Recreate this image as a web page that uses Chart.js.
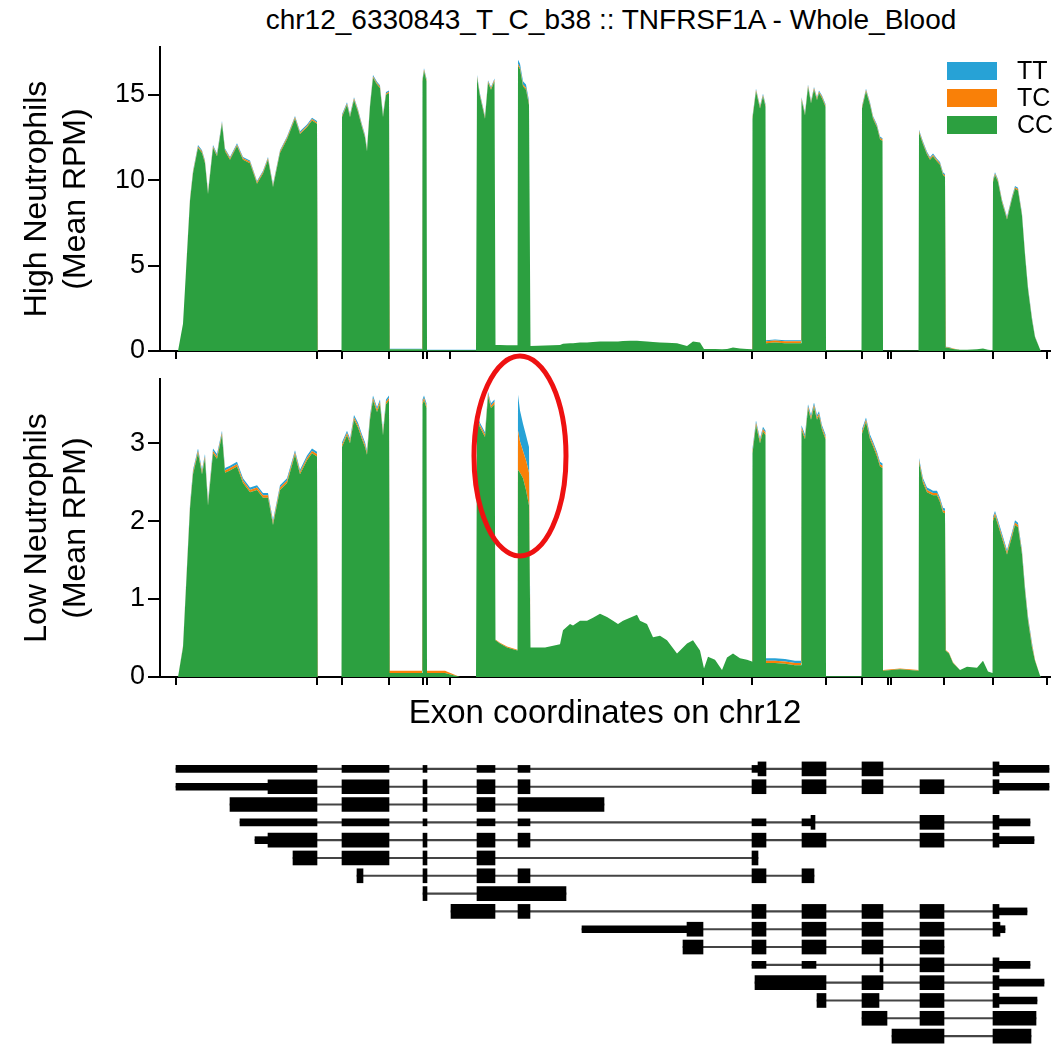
<!DOCTYPE html>
<html>
<head>
<meta charset="utf-8">
<script src="https://cdn.jsdelivr.net/npm/chart.js@4.4.1/dist/chart.umd.min.js"></script>
<style>
    body { margin: 0; background: #fff; width: 1054px; height: 1046px; position: relative; overflow: hidden;
           font-family: 'Liberation Sans', Arial, sans-serif; color: #000; }
    canvas { position: absolute; left: 0; }
    #title { position: absolute; top: 4px; left: 611px; transform: translateX(-50%); font-size: 28px; white-space: nowrap; }
    #legend { position: absolute; left: 947px; top: 57px; font-size: 25px; }
    #legend .item { display: flex; align-items: center; height: 27px; }
    #legend .swatch { width: 50px; height: 18px; margin-right: 20px; }
    #marker { position: absolute; left: 0; top: 0; pointer-events: none; }
</style>
</head>
<body>
<div id="title">chr12_6330843_T_C_b38 :: TNFRSF1A - Whole_Blood</div>
<canvas id="high-chart" width="1054" height="372" style="top:0"></canvas>
<canvas id="low-chart" width="1054" height="390" style="top:360px"></canvas>
<canvas id="gene-chart" width="1054" height="301" style="top:745px"></canvas>
<div id="legend"></div>
<svg id="marker" width="1054" height="1046">
    <ellipse cx="520" cy="456" rx="46" ry="100" fill="none" stroke="#ee1111" stroke-width="5"></ellipse>
</svg>
<script>
// Positions along the collapsed exon axis (shared by both panels)
const positions = [
    18, 23, 30, 33, 38, 42, 45, 48, 53, 57, 62, 65, 70, 77, 83, 90, 97, 103, 108, 113, 120, 127, 135, 140, 147, 152, 157, 157.5,
    181.5, 182, 187, 190, 194, 198, 202, 205, 207, 210, 213, 217, 220, 223, 226, 229,
    229.5, 245, 262, 262.5, 264, 266.5, 267, 285, 300, 316,
    317, 320, 325, 328, 331, 334.5, 335.5, 340, 347, 357.5,
    358, 360, 363, 366, 369, 370.5,
    385, 400, 403, 410, 413, 420, 427, 433, 440, 447, 453, 458, 463, 470, 477, 480, 487, 493, 500, 507, 517, 527, 533, 540, 544, 548, 555, 562, 567, 573, 580, 587, 592,
    592.5, 596, 600, 603, 605.5, 606, 615, 625, 635, 641,
    641.5, 645, 648, 651, 654, 657, 659, 662, 665.5, 666, 685, 701.5,
    702, 706, 710, 713, 717, 720, 722.5, 723, 740, 758.5,
    759, 763, 767, 770, 773, 777, 780, 783, 785, 785.5,
    789, 793, 800, 807, 817, 823, 828, 832.5,
    833, 835, 838, 842, 847, 852, 855, 858, 862, 865, 868, 872, 875, 880, 881
];

// High Neutrophils (Mean RPM) per genotype
const highCC = [
    0, 1.6, 8.8, 10.4, 11.9, 11.6, 11.0, 9.2, 11.9, 11.4, 13.3, 11.7, 11.2, 12.0, 11.2, 11.0, 9.8, 10.4, 11.2, 9.6, 11.6, 12.4, 13.6, 12.7, 13.1, 13.5, 13.3, 0,
    0, 13.7, 14.4, 13.7, 14.7, 14.0, 13.1, 12.5, 11.7, 14.3, 16.0, 15.6, 15.4, 13.7, 15.0, 15.1,
    0.1, 0.1, 0.1, 15.8, 16.4, 15.8, 0.05, 0.05, 0.05, 0.05,
    16.0, 14.9, 13.6, 15.7, 15.3, 15.8, 0.35, 0.35, 0.33, 0.33,
    16.7, 16.5, 15.5, 15.3, 14.4, 0.3,
    0.32, 0.35, 0.42, 0.45, 0.45, 0.5, 0.5, 0.52, 0.55, 0.55, 0.55, 0.55, 0.58, 0.6, 0.6, 0.58, 0.55, 0.52, 0.5, 0.48, 0.45, 0.3, 0.55, 0.5, 0.12, 0.12, 0.12, 0.1, 0.12, 0.2, 0.15, 0.12, 0.1,
    13.6, 15.2, 14.2, 14.9, 14.3, 0.45, 0.5, 0.45, 0.45, 0.45,
    14.7, 13.8, 15.45, 14.5, 15.3, 14.7, 15.1, 14.8, 14.3, 0.05, 0.05, 0.05,
    14.2, 15.2, 14.4, 13.6, 13.1, 12.4, 12.3, 0.02, 0.03, 0.03,
    12.8, 12.1, 11.5, 11.2, 11.4, 11.1, 10.9, 10.3, 10.2, 0.2,
    0.18, 0.12, 0.08, 0.08, 0.1, 0.15, 0.08, 0.05,
    9.9, 10.3, 9.9, 8.7, 7.7, 8.9, 9.5, 9.4, 7.9, 5.6, 3.6, 1.8, 0.8, 0.1, 0
];
const highTC = [
    0, 0, 0.08, 0.08, 0.08, 0.08, 0.08, 0.08, 0.08, 0.08, 0.08, 0.08, 0.08, 0.08, 0.08, 0.08, 0.08, 0.08, 0.08, 0.08, 0.08, 0.08, 0.08, 0.08, 0.08, 0.08, 0.08, 0,
    0, 0.08, 0.08, 0.08, 0.08, 0.08, 0.08, 0.08, 0.08, 0.08, 0.08, 0.08, 0.08, 0.08, 0.08, 0.08,
    0, 0, 0, 0.08, 0.08, 0.08, 0, 0, 0, 0,
    0.08, 0.08, 0.08, 0.08, 0.08, 0.08, 0, 0, 0, 0,
    0.1, 0.1, 0.1, 0.1, 0.1, 0,
    0, 0, 0, 0, 0, 0, 0, 0, 0, 0, 0, 0, 0, 0, 0, 0, 0, 0, 0, 0, 0, 0, 0, 0, 0, 0, 0, 0, 0, 0, 0, 0, 0,
    0.08, 0.08, 0.08, 0.08, 0.08, 0.12, 0.12, 0.12, 0.12, 0.12,
    0.08, 0.08, 0.08, 0.08, 0.08, 0.08, 0.08, 0.08, 0.08, 0, 0, 0,
    0.08, 0.08, 0.08, 0.08, 0.08, 0.08, 0.08, 0, 0, 0,
    0.08, 0.08, 0.08, 0.08, 0.08, 0.08, 0.08, 0.08, 0.08, 0.03,
    0.03, 0.02, 0, 0, 0, 0, 0, 0,
    0.08, 0.08, 0.08, 0.08, 0.08, 0.08, 0.08, 0.08, 0.08, 0.08, 0.08, 0.08, 0.04, 0, 0
];
const highTT = [
    0, 0, 0.08, 0.08, 0.08, 0.08, 0.08, 0.08, 0.08, 0.08, 0.08, 0.08, 0.08, 0.08, 0.08, 0.08, 0.08, 0.08, 0.08, 0.08, 0.08, 0.08, 0.08, 0.08, 0.08, 0.08, 0.08, 0,
    0, 0.08, 0.08, 0.08, 0.08, 0.08, 0.08, 0.08, 0.08, 0.08, 0.08, 0.08, 0.08, 0.08, 0.08, 0.08,
    0.03, 0.03, 0.03, 0.08, 0.08, 0.08, 0.02, 0.02, 0.02, 0.02,
    0.08, 0.08, 0.08, 0.08, 0.08, 0.08, 0, 0, 0, 0,
    0.25, 0.22, 0.2, 0.2, 0.15, 0,
    0, 0, 0, 0, 0, 0, 0, 0, 0, 0, 0, 0, 0, 0, 0, 0, 0, 0, 0, 0, 0, 0, 0, 0, 0, 0, 0, 0, 0, 0, 0, 0, 0,
    0.08, 0.08, 0.08, 0.08, 0.08, 0.06, 0.06, 0.06, 0.06, 0.06,
    0.08, 0.08, 0.08, 0.08, 0.08, 0.08, 0.08, 0.08, 0.08, 0, 0, 0,
    0.08, 0.08, 0.08, 0.08, 0.08, 0.08, 0.08, 0, 0, 0,
    0.08, 0.08, 0.08, 0.08, 0.08, 0.08, 0.08, 0.08, 0.08, 0.02,
    0.02, 0.01, 0, 0, 0, 0, 0, 0,
    0.08, 0.08, 0.08, 0.08, 0.08, 0.08, 0.08, 0.08, 0.08, 0.08, 0.08, 0.08, 0.03, 0, 0
];

// Low Neutrophils (Mean RPM) per genotype
const lowCC = [
    0, 0.38, 2.16, 2.6, 2.87, 2.6, 2.8, 2.2, 2.87, 2.8, 3.1, 2.62, 2.65, 2.7, 2.49, 2.37, 2.4, 2.3, 2.3, 1.95, 2.4, 2.49, 2.85, 2.6, 2.78, 2.87, 2.83, 0,
    0, 2.95, 3.1, 3.0, 3.3, 3.2, 3.05, 2.95, 2.85, 3.3, 3.55, 3.4, 3.5, 3.1, 3.5, 3.55,
    0.05, 0.05, 0.05, 3.5, 3.55, 3.45, 0.05, 0.05, 0, 0,
    3.3, 3.2, 3.08, 3.6, 3.45, 3.5, 0.47, 0.43, 0.38, 0.34,
    2.66, 2.62, 2.55, 2.4, 2.2, 0.38,
    0.38, 0.42, 0.6, 0.68, 0.66, 0.72, 0.72, 0.76, 0.81, 0.77, 0.72, 0.68, 0.72, 0.76, 0.8, 0.72, 0.68, 0.51, 0.53, 0.47, 0.3, 0.43, 0.47, 0.34, 0.11, 0.26, 0.22, 0.09, 0.25, 0.3, 0.24, 0.22, 0.2,
    2.87, 3.23, 3.0, 3.15, 3.1, 0.18, 0.18, 0.17, 0.15, 0.15,
    3.17, 3.05, 3.44, 3.3, 3.46, 3.3, 3.35, 3.17, 3.05, 0.01, 0.01, 0.01,
    3.12, 3.27, 3.05, 2.96, 2.83, 2.7, 2.68, 0.08, 0.1, 0.08,
    2.75, 2.49, 2.37, 2.35, 2.33, 2.33, 2.24, 2.11, 2.1, 0.34,
    0.3, 0.18, 0.09, 0.13, 0.12, 0.21, 0.07, 0.05,
    2.0, 2.07, 1.95, 1.78, 1.57, 1.8, 1.95, 1.92, 1.57, 1.1, 0.72, 0.38, 0.21, 0.02, 0
];
const lowTC = [
    0, 0.01, 0.03, 0.03, 0.03, 0.03, 0.03, 0.03, 0.03, 0.03, 0.03, 0.03, 0.03, 0.03, 0.03, 0.03, 0.03, 0.03, 0.03, 0.03, 0.03, 0.03, 0.03, 0.03, 0.03, 0.03, 0.03, 0,
    0, 0.03, 0.03, 0.03, 0.03, 0.03, 0.03, 0.03, 0.03, 0.03, 0.03, 0.03, 0.03, 0.03, 0.03, 0.03,
    0.03, 0.03, 0.03, 0.03, 0.03, 0.03, 0.03, 0.03, 0, 0,
    0.03, 0.03, 0.03, 0.03, 0.03, 0.03, 0.01, 0.01, 0.01, 0.01,
    0.5, 0.4, 0.35, 0.38, 0.42, 0,
    0, 0, 0, 0, 0, 0, 0, 0, 0, 0, 0, 0, 0, 0, 0, 0, 0, 0, 0, 0, 0, 0, 0, 0, 0, 0, 0, 0, 0, 0, 0, 0, 0,
    0.03, 0.03, 0.03, 0.03, 0.03, 0.03, 0.03, 0.03, 0.03, 0.03,
    0.03, 0.03, 0.03, 0.03, 0.03, 0.03, 0.03, 0.03, 0.03, 0, 0, 0,
    0.03, 0.03, 0.03, 0.03, 0.03, 0.03, 0.03, 0.01, 0.01, 0.01,
    0.03, 0.03, 0.03, 0.03, 0.03, 0.03, 0.03, 0.03, 0.03, 0.01,
    0.01, 0.01, 0, 0, 0, 0, 0, 0,
    0.03, 0.03, 0.03, 0.03, 0.03, 0.03, 0.03, 0.03, 0.03, 0.03, 0.03, 0.03, 0.01, 0, 0
];
const lowTT = [
    0, 0.01, 0.03, 0.03, 0.03, 0.03, 0.03, 0.03, 0.03, 0.03, 0.03, 0.03, 0.03, 0.03, 0.03, 0.03, 0.03, 0.03, 0.03, 0.03, 0.03, 0.03, 0.03, 0.03, 0.03, 0.03, 0.03, 0,
    0, 0.03, 0.03, 0.03, 0.03, 0.03, 0.03, 0.03, 0.03, 0.03, 0.03, 0.03, 0.03, 0.03, 0.03, 0.03,
    0, 0, 0, 0.03, 0.03, 0.03, 0, 0, 0, 0,
    0.03, 0.03, 0.03, 0.03, 0.03, 0.03, 0, 0, 0, 0,
    0.46, 0.4, 0.35, 0.32, 0.33, 0,
    0, 0, 0, 0, 0, 0, 0, 0, 0, 0, 0, 0, 0, 0, 0, 0, 0, 0, 0, 0, 0, 0, 0, 0, 0, 0, 0, 0, 0, 0, 0, 0, 0,
    0.03, 0.03, 0.03, 0.03, 0.03, 0.03, 0.03, 0.03, 0.03, 0.03,
    0.03, 0.03, 0.03, 0.03, 0.03, 0.03, 0.03, 0.03, 0.03, 0, 0, 0,
    0.03, 0.03, 0.03, 0.03, 0.03, 0.03, 0.03, 0, 0, 0,
    0.03, 0.03, 0.03, 0.03, 0.03, 0.03, 0.03, 0.03, 0.03, 0,
    0, 0, 0, 0, 0, 0, 0, 0,
    0.03, 0.03, 0.03, 0.03, 0.03, 0.03, 0.03, 0.03, 0.03, 0.03, 0.03, 0.03, 0, 0, 0
];

const genotypes = ['TT', 'TC', 'CC'];
const genotypeColors = { TT: '#27a2d6', TC: '#f98008', CC: '#2ca040' };

// Axis ticks
const highTicks = [0, 5, 10, 15];
const lowTicks = [0, 1, 2, 3];
const exonTicks = [16, 157, 182, 229, 263, 267, 290, 543, 592, 666, 702, 728, 731, 784, 833, 887];

// Transcript models: [row, start, end] on the same collapsed axis
const transcriptRows = ['1', '2', '3', '4', '5', '6', '7', '8', '9', '10', '11', '12', '13', '14', '15', '16'];
const cdsBlocks = [
    [0, 598, 606], [0, 642, 666], [0, 702, 723], [0, 833, 839],
    [1, 108, 157], [1, 182, 229], [1, 263, 267], [1, 317, 335], [1, 358, 370], [1, 592, 606], [1, 642, 666], [1, 702, 723], [1, 760, 784], [1, 833, 839],
    [2, 70, 157], [2, 182, 229], [2, 263, 267], [2, 317, 335], [2, 358, 444],
    [3, 651, 655], [3, 760, 784], [3, 833, 839],
    [4, 108, 157], [4, 182, 229], [4, 263, 267], [4, 317, 335], [4, 358, 370], [4, 592, 606], [4, 642, 666], [4, 760, 784], [4, 833, 839],
    [5, 133, 157], [5, 182, 229], [5, 263, 267], [5, 317, 335], [5, 592, 598],
    [6, 197, 203], [6, 263, 267], [6, 317, 335], [6, 358, 370], [6, 592, 606], [6, 642, 654],
    [7, 263, 267], [7, 317, 406],
    [8, 291, 335], [8, 358, 370], [8, 592, 606], [8, 642, 666], [8, 702, 723], [8, 760, 784], [8, 833, 839],
    [9, 527, 543], [9, 592, 606], [9, 642, 666], [9, 702, 723], [9, 760, 784], [9, 833, 840],
    [10, 523, 543], [10, 592, 606], [10, 642, 666], [10, 702, 723], [10, 760, 784],
    [11, 720, 723], [11, 760, 784], [11, 833, 839],
    [12, 595, 666], [12, 702, 723], [12, 760, 784], [12, 833, 839],
    [13, 657, 666], [13, 702, 719], [13, 760, 784], [13, 833, 839],
    [14, 702, 727], [14, 760, 784], [14, 833, 876],
    [15, 732, 784], [15, 833, 871]
];
const utrBlocks = [
    [0, 16, 157], [0, 182, 229], [0, 263, 267], [0, 317, 335], [0, 358, 370], [0, 592, 598], [0, 839, 889],
    [1, 16, 108], [1, 839, 889],
    [3, 80, 157], [3, 182, 229], [3, 263, 267], [3, 317, 335], [3, 358, 370], [3, 592, 606], [3, 642, 651], [3, 839, 870],
    [4, 95, 108], [4, 839, 874],
    [8, 839, 867],
    [9, 422, 527], [9, 840, 845],
    [11, 592, 606], [11, 642, 656], [11, 839, 870],
    [12, 839, 884],
    [13, 839, 877]
];
const intronSpans = [
    [0, 16, 889], [1, 16, 889], [2, 70, 444], [3, 80, 870], [4, 95, 874], [5, 133, 598], [6, 197, 654], [7, 263, 406],
    [8, 291, 867], [9, 422, 845], [10, 523, 784], [11, 592, 870], [12, 595, 884], [13, 657, 877], [14, 702, 876], [15, 732, 871]
];

Chart.defaults.font.family = "'Liberation Sans', Arial, sans-serif";
Chart.defaults.color = '#000';

// Build stacked area datasets (CC bottom, then TC, then TT)
function coverageDatasets(cc, tc, tt) {
    const series = { CC: cc, TC: tc, TT: tt };
    return ['CC', 'TC', 'TT'].map((g, k) => ({
        label: g,
        data: positions.map((x, i) => ({ x: x, y: series[g][i] })),
        backgroundColor: genotypeColors[g],
        borderColor: 'rgba(0,0,0,0)',
        borderWidth: 0,
        pointRadius: 0,
        pointHoverRadius: 0,
        tension: 0,
        fill: k === 0 ? 'origin' : '-1'
    }));
}

function coverageChart(id, datasets, yMax, yTicks, yTitle, opts) {
    return new Chart(document.getElementById(id), {
        type: 'line',
        data: { datasets: datasets },
        options: {
            responsive: false,
            animation: false,
            events: [],
            layout: { padding: { top: opts.top, right: 4, left: 0, bottom: 0 } },
            plugins: { legend: { display: false }, tooltip: { enabled: false } },
            scales: {
                x: {
                    type: 'linear',
                    min: 0,
                    max: 890,
                    afterBuildTicks: s => { s.ticks = exonTicks.map(v => ({ value: v })); },
                    afterFit: s => { s.height = opts.xHeight; },
                    ticks: { display: false },
                    grid: { drawOnChartArea: false, drawTicks: true, tickLength: 8, color: '#000', lineWidth: 2 },
                    border: { display: true, color: '#000', width: 2 },
                    title: opts.xTitle ? {
                        display: true,
                        text: opts.xTitle,
                        font: { size: 33, lineHeight: 1.2 },
                        color: '#000',
                        padding: { top: 0, bottom: 16 }
                    } : { display: false }
                },
                y: {
                    stacked: true,
                    min: 0,
                    max: yMax,
                    afterBuildTicks: s => { s.ticks = yTicks.map(v => ({ value: v })); },
                    afterFit: s => { s.width = 160; },
                    ticks: { font: { size: 27 }, color: '#000', padding: 3 },
                    grid: { drawOnChartArea: false, tickLength: 12, color: '#000', lineWidth: 2 },
                    border: { color: '#000', width: 2 },
                    title: {
                        display: true,
                        text: yTitle,
                        font: { size: 32, lineHeight: 1.22 },
                        color: '#000',
                        padding: { top: 18, bottom: 0 }
                    }
                }
            }
        }
    });
}

// Coverage panels
coverageChart('high-chart', coverageDatasets(highCC, highTC, highTT), 17.8, highTicks,
    ['High Neutrophils', '(Mean RPM)'], { top: 47, xHeight: 21 });
coverageChart('low-chart', coverageDatasets(lowCC, lowTC, lowTT), 3.82, lowTicks,
    ['Low Neutrophils', '(Mean RPM)'], { top: 15, xHeight: 73, xTitle: 'Exon coordinates on chr12' });

// Transcript structures as floating bars
function blocks(list) {
    return list.map(b => ({ y: transcriptRows[b[0]], x: [b[1], b[2]] }));
}
new Chart(document.getElementById('gene-chart'), {
    type: 'bar',
    data: {
        labels: transcriptRows,
        datasets: [
            { data: blocks(cdsBlocks), backgroundColor: '#000', barThickness: 14, grouped: false },
            { data: blocks(utrBlocks), backgroundColor: '#000', barThickness: 7, grouped: false },
            { data: blocks(intronSpans), backgroundColor: '#444', barThickness: 1.5, grouped: false }
        ]
    },
    options: {
        indexAxis: 'y',
        responsive: false,
        animation: false,
        events: [],
        layout: { padding: { left: 160, right: 4, top: 15, bottom: 1 } },
        plugins: { legend: { display: false }, tooltip: { enabled: false } },
        scales: {
            x: { type: 'linear', min: 0, max: 890, display: false },
            y: { display: false }
        }
    }
});

// Legend (TT, TC, CC)
const legend = document.getElementById('legend');
genotypes.forEach(g => {
    legend.insertAdjacentHTML('beforeend',
        '<div class="item"><span class="swatch" style="background:' + genotypeColors[g] + '"></span>' + g + '</div>');
});
</script>
</body>
</html>
